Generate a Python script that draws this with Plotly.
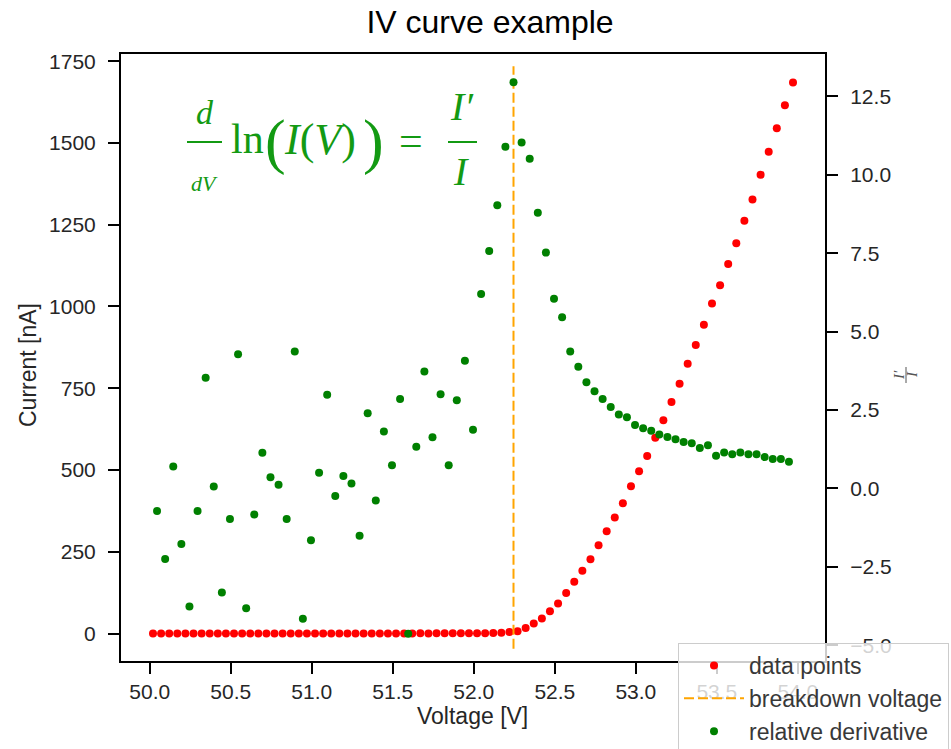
import plotly.graph_objects as go

# ---------------- data ----------------
voltage = [
    50.02, 50.07, 50.12, 50.17, 50.22, 50.27, 50.32, 50.37, 50.42, 50.47,
    50.52, 50.57, 50.62, 50.67, 50.72, 50.77, 50.82, 50.87, 50.92, 50.97,
    51.02, 51.07, 51.12, 51.17, 51.22, 51.27, 51.32, 51.37, 51.42, 51.47,
    51.52, 51.57, 51.62, 51.67, 51.72, 51.77, 51.82, 51.87, 51.92, 51.97,
    52.02, 52.07, 52.12, 52.17, 52.22, 52.27, 52.32, 52.37, 52.42, 52.47,
    52.52, 52.57, 52.62, 52.67, 52.72, 52.77, 52.82, 52.87, 52.92, 52.97,
    53.02, 53.07, 53.12, 53.17, 53.22, 53.27, 53.32, 53.37, 53.42, 53.47,
    53.52, 53.57, 53.62, 53.67, 53.72, 53.77, 53.82, 53.87, 53.92, 53.97,
]
current = [
    0.21, 0.17, 0.24, 0.19, 0.15, 0.20, 0.26, 0.18, 0.23, 0.16,
    0.22, 0.27, 0.19, 0.24, 0.21, 0.25, 0.28, 0.22, 0.30, 0.26,
    0.29, 0.33, 0.28, 0.31, 0.35, 0.32, 0.36, 0.34, 0.39, 0.37,
    0.41, 0.40, 0.44, 0.47, 0.45, 0.50, 0.53, 0.57, 0.60, 0.66,
    0.70, 1.0, 1.5, 2.6, 4.9, 7.0, 17, 31, 46, 68,
    92, 124, 158, 192, 227, 270, 313, 355, 398, 450,
    496, 543, 599, 652, 708, 764, 825, 882, 944, 1009,
    1065, 1130, 1193, 1262, 1327, 1403, 1473, 1545, 1615, 1685,
]
# relative derivative I'/I, evaluated between neighbouring voltage samples
rel_deriv = [
    -0.72, -2.25, 0.70, -1.77, -3.76, -0.72, 3.53, 0.06, -3.32, -0.97,
    4.28, -3.82, -0.83, 1.14, 0.36, 0.12, -0.97, 4.37, -4.15, -1.65,
    0.50, 2.99, -0.24, 0.40, 0.16, -1.51, 2.40, -0.38, 1.82, 0.74,
    2.85, -4.63, 1.33, 3.73, 1.63, 3.00, 0.74, 2.81, 4.07, 1.87,
    6.20, 7.57, 9.03, 10.89, 12.95, 11.03, 10.51, 8.79, 7.52, 6.05,
    5.46, 4.37, 3.88, 3.39, 3.10, 2.85, 2.60, 2.36, 2.27, 2.02,
    1.92, 1.84, 1.72, 1.64, 1.57, 1.48, 1.44, 1.29, 1.38, 1.04,
    1.15, 1.09, 1.15, 1.09, 1.09, 1.00, 0.94, 0.94, 0.85,
]
deriv_voltage = [(a + b) / 2 for a, b in zip(voltage[:-1], voltage[1:])]
breakdown_voltage = deriv_voltage[rel_deriv.index(max(rel_deriv))]

x_ticks = [50.0, 50.5, 51.0, 51.5, 52.0, 52.5, 53.0, 53.5, 54.0]
y_ticks = [0, 250, 500, 750, 1000, 1250, 1500, 1750]
y2_ticks = [-5.0, -2.5, 0.0, 2.5, 5.0, 7.5, 10.0, 12.5]

# ---------------- layout geometry ----------------
W, H = 951, 749
ML, MR, MT, MB = 121, 126, 54, 88
PL, PR, PT, PB = ML, W - MR, MT, H - MB

X_RANGE = [49.8225, 54.1675]
Y_RANGE = [-84, 1772]
Y2_RANGE = [-5.50, 13.85]


def px(x, y):
    return (x - PL) / (PR - PL), (PB - y) / (PB - PT)


TXT = "#262626"
SANS = "Liberation Sans, Arial, sans-serif"
SERIF = "Liberation Serif, Times New Roman, serif"
GREEN_TXT = "#139a13"

fig = go.Figure()

fig.add_trace(go.Scatter(
    x=voltage, y=current, mode="markers", name="data points",
    marker=dict(color="red", size=8, line=dict(width=0)),
    yaxis="y", legendgroup="a",
))

# axvline-like breakdown line spanning 2%..98% of the axes height
span_lo = Y_RANGE[0] + 0.02 * (Y_RANGE[1] - Y_RANGE[0])
span_hi = Y_RANGE[0] + 0.98 * (Y_RANGE[1] - Y_RANGE[0])
fig.add_trace(go.Scatter(
    x=[breakdown_voltage, breakdown_voltage], y=[span_lo, span_hi],
    mode="lines", name="breakdown voltage",
    line=dict(color="orange", width=2, dash="10px,4px"),
    yaxis="y", legendgroup="b",
))

fig.add_trace(go.Scatter(
    x=deriv_voltage, y=rel_deriv, mode="markers", name="relative derivative",
    marker=dict(color="green", size=8, line=dict(width=0)),
    yaxis="y2", legendgroup="c",
))

axis_common = dict(
    showgrid=False, zeroline=False, showline=True, linecolor="black",
    linewidth=2, ticks="outside", ticklen=11, tickwidth=1.5, tickcolor="black",
    tickfont=dict(family=SANS, size=21, color=TXT),
)

fig.update_layout(
    width=W, height=H,
    margin=dict(l=ML, r=MR, t=MT, b=MB, autoexpand=False),
    plot_bgcolor="white", paper_bgcolor="white",
    showlegend=True,
    xaxis=dict(range=X_RANGE, tickvals=x_ticks, tickformat=".1f",
               mirror=True, **axis_common),
    yaxis=dict(range=Y_RANGE, tickvals=y_ticks, ticklabelstandoff=8,
               **axis_common),
    yaxis2=dict(range=Y2_RANGE, tickvals=y2_ticks, tickformat=".1f",
                overlaying="y", side="right", ticklabelstandoff=8,
                **axis_common),
    title=dict(text="IV curve example", x=px(490, 0)[0], xref="paper",
               xanchor="center", y=1 - 22 / H, yanchor="middle",
               font=dict(family=SANS, size=32, color="black")),
    legend=dict(
        x=px(678, 0)[0], y=px(0, 643)[1], xanchor="left", yanchor="top",
        bgcolor="rgba(255,255,255,0.8)", bordercolor="#cccccc", borderwidth=1,
        font=dict(family=SANS, size=23, color="#383838"),
        itemwidth=60, tracegroupgap=0,
    ),
)

annotations = []
shapes = []


def ann(x, y, text, size, family=SANS, color=TXT, angle=0):
    ax, ay = px(x, y)
    annotations.append(dict(
        x=ax, y=ay, xref="paper", yref="paper", text=text, showarrow=False,
        xanchor="center", yanchor="middle", textangle=angle,
        font=dict(family=family, size=size, color=color),
    ))


def hline(x0, x1, y, color, width=2):
    a0, b0 = px(x0, y)
    a1, _ = px(x1, y)
    shapes.append(dict(type="line", xref="paper", yref="paper",
                       x0=a0, x1=a1, y0=b0, y1=b0,
                       line=dict(color=color, width=width)))


def vline(x, y0, y1, color, width=1):
    a0, b0 = px(x, y0)
    _, b1 = px(x, y1)
    shapes.append(dict(type="line", xref="paper", yref="paper",
                       x0=a0, x1=a0, y0=b0, y1=b1,
                       line=dict(color=color, width=width)))


# axis titles
ann(28, 365, "Current [nA]", 23, angle=-90)
ann(472, 716, "Voltage [V]", 23)

# right axis label: I'/I (rotated fraction)
ann(899, 375, "<i>I′</i>", 15, family=SERIF, color="#555555", angle=-90)
vline(906, 367, 383, "#555555", 1)
ann(912, 375, "<i>I</i>", 15, family=SERIF, color="#555555", angle=-90)

# formula d/dV ln(I(V)) = I'/I
ann(205, 112, "<i>d</i>", 34, family=SERIF, color=GREEN_TXT)
hline(187, 222, 142, GREEN_TXT, 2)
ann(204, 183, "<i>dV</i>", 22, family=SERIF, color=GREEN_TXT)
ann(247, 139, "ln", 42, family=SERIF, color=GREEN_TXT)
ann(275, 141, "(", 62, family=SERIF, color=GREEN_TXT)
ann(320, 139, "<i>I</i>(<i>V</i>)", 44, family=SERIF, color=GREEN_TXT)
ann(373, 141, ")", 62, family=SERIF, color=GREEN_TXT)
ann(411, 141, "=", 42, family=SERIF, color=GREEN_TXT)
ann(462, 107, "<i>I′</i>", 40, family=SERIF, color=GREEN_TXT)
hline(448, 477, 142, GREEN_TXT, 2)
ann(461, 171, "<i>I</i>", 40, family=SERIF, color=GREEN_TXT)

fig.update_layout(annotations=annotations, shapes=shapes)

fig.write_html(
    "out.html",
    config={"displayModeBar": False},
    post_script="document.body.style.margin='0px';"
                "document.body.style.overflow='hidden';",
)
